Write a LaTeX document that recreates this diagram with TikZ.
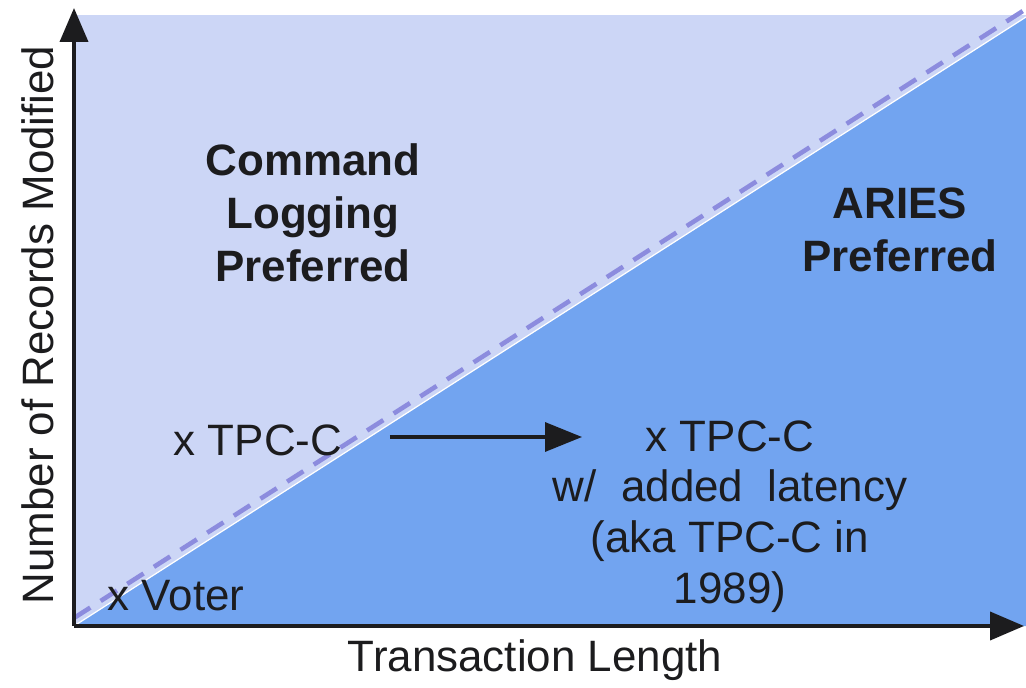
\documentclass[tikz,border=0pt]{standalone}
\usepackage{fontspec}
\setmainfont{Liberation Sans}
\usetikzlibrary{arrows.meta,positioning}
\definecolor{lavender}{RGB}{204,214,246}
\definecolor{skyblue}{RGB}{114,164,240}
\definecolor{dashpurple}{RGB}{140,140,222}
\definecolor{ink}{RGB}{28,28,30}
\tikzset{
  lbl/.style={font=\fontsize{25}{29}\selectfont,text=ink,align=center,inner sep=0pt},
  bold lbl/.style={lbl,font=\fontsize{25}{30}\selectfont\bfseries},
  axis/.style={-{Triangle[length=0.68cm,width=0.56cm]},draw=ink,line width=2.2pt},
  arr/.style={-{Triangle[length=0.74cm,width=0.58cm]},draw=ink,line width=1.9pt},
}

\begin{document}
\begin{tikzpicture}[x=0.02cm,y=-0.02cm]
  \useasboundingbox (0,0) rectangle (1026,688);
  \coordinate (O) at (74,626);
  \coordinate (ytop) at (74,8);
  \coordinate (xend) at (1024,626);
  \coordinate (diagend) at (1026,17);
  % regions
  \fill[lavender] (O) rectangle (1026,15);
  \fill[skyblue] (O) -- (diagend) -- (1026,626) -- cycle;
  \draw[white,line width=0.7pt] (O) -- (diagend);
  \draw[dashpurple,line width=2.6pt,dash pattern=on 11pt off 7pt] (74,618) -- (1026,9);
  % axes
  \draw[axis] (O) -- (ytop);
  \draw[axis] (O) -- (xend);
  \node[lbl,rotate=90] (ylab) at (38,325) {Number of Records Modified};
  \node[lbl] (xlab) at (535,660) {Transaction Length};
  % regions labels
  \node[bold lbl] (cmd) at (313,213) {Command\\Logging\\Preferred};
  \node[bold lbl] (aries) at (900,230) {ARIES\\Preferred};
  % workloads
  \node[lbl] (tpcc) at (258,440) {x TPC-C};
  \node[lbl,anchor=north] (tpcclat) at (730,420) {x TPC-C\\w/\ \ added\ \ latency\\(aka TPC-C in\\1989)};
  \node[lbl] (voter) at (176,596) {x Voter};
  \coordinate (arrend) at (582,437);
  \draw[arr] ([xshift=27pt]tpcc.east |- arrend) -- (arrend);
\end{tikzpicture}
\end{document}
